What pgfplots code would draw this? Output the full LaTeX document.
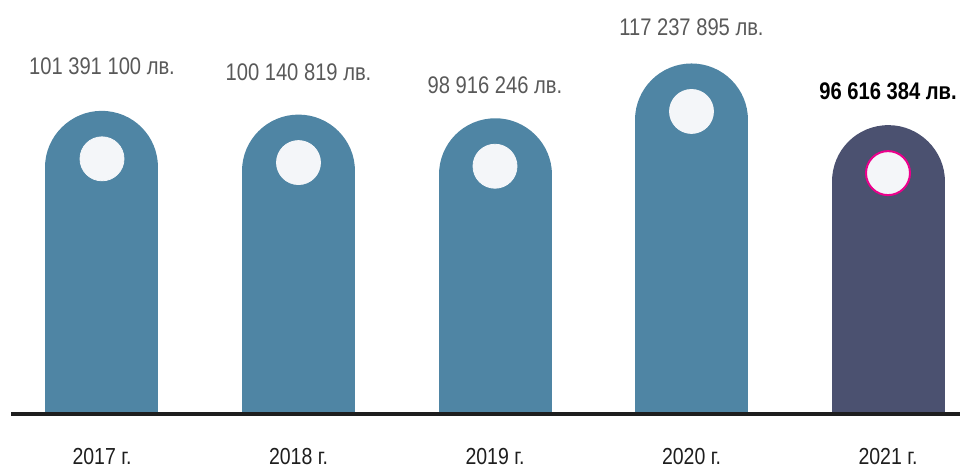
\documentclass[border=0pt]{standalone}
\usepackage{pgfplots}
\pgfplotsset{compat=1.18}
\usepackage{pgfplotstable}
\usepackage{fontspec}
\setmainfont{Liberation Sans}[FakeStretch=0.84]

\definecolor{barblue}{HTML}{4F85A4}
\definecolor{bardark}{HTML}{4B5170}
\definecolor{dotfill}{HTML}{F4F6F9}
\definecolor{labgrey}{HTML}{595959}
\definecolor{baseln}{HTML}{1E1E1E}

% value in millions of leva, ly = height of the value label
\pgfplotstableread[col sep=comma]{
x,v,ly,label
0,101.391100,116.2,101 391 100 лв.
1,100.140819,114.2,100 140 819 лв.
2,98.916246,110.0,98 916 246 лв.
3,117.237895,129.3,117 237 895 лв.
}\blue
\pgfplotstableread[col sep=comma]{
x,v,ly,label
4,96.616384,107.9,96 616 384 лв.
}\dark

\begin{document}
\begin{tikzpicture}
\path[use as bounding box] (-51pt,-27pt) rectangle (429pt,207pt);
\begin{axis}[
    anchor=origin, at={(0pt,0pt)},
    x=98.25pt, y=1.495pt,
    xmin=-0.463, xmax=4.37,
    ymin=0, ymax=150,
    axis x line=bottom, axis y line=none,
    x axis line style={-, line width=2pt, color=baseln},
    axis on top,
    xtick={0,1,2,3,4},
    xticklabels={2017 г.,2018 г.,2019 г.,2020 г.,2021 г.},
    major tick length=0pt,
    ytick=\empty,
    xticklabel style={anchor=center, yshift=-21.5pt, text=baseln,
        font=\fontsize{11.6}{13}\selectfont},
]
    % bars: round line cap gives the half-circle top
    \addplot[ycomb, line width=56.5pt, line cap=round, color=barblue, mark=none]
        table[x=x, y expr=\thisrow{v}-18.9] {\blue};
    \addplot[ycomb, line width=56.5pt, line cap=round, color=bardark, mark=none]
        table[x=x, y expr=\thisrow{v}-18.9] {\dark};
    % dots
    \addplot[only marks, mark=*, mark size=11pt, color=dotfill]
        table[x=x, y expr=\thisrow{v}-16.05] {\blue};
    \addplot[only marks, mark=*, mark size=11pt, color=magenta, line width=1pt,
        mark options={fill=dotfill}]
        table[x=x, y expr=\thisrow{v}-16.05] {\dark};
    % value labels
    \addplot[only marks, mark=none, nodes near coords, point meta=explicit symbolic,
        every node near coord/.style={anchor=center, text=labgrey, inner sep=0pt,
            font=\fontsize{12}{14}\selectfont}]
        table[x=x, y=ly, meta=label] {\blue};
    \addplot[only marks, mark=none, nodes near coords, point meta=explicit symbolic,
        every node near coord/.style={anchor=center, text=black, inner sep=0pt,
            font=\fontsize{12}{14}\selectfont\bfseries}]
        table[x=x, y=ly, meta=label] {\dark};
\end{axis}
\end{tikzpicture}
\end{document}
